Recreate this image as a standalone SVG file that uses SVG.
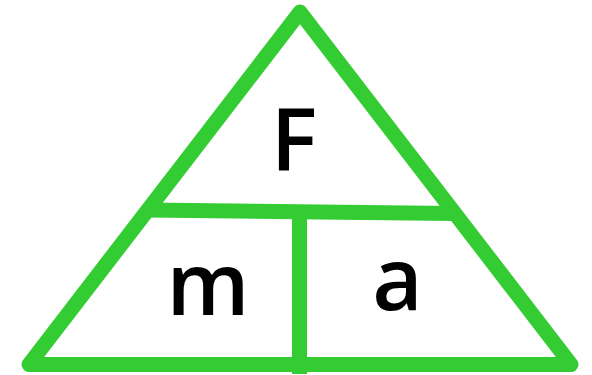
<svg xmlns="http://www.w3.org/2000/svg" width="592" height="375" viewBox="0 0 592 375">
<style>
.ln{fill:none;stroke:#33cc33;stroke-width:15}
.lb{font-family:"Open Sans","Noto Sans","Liberation Sans",sans-serif;font-weight:600;font-size:87px;fill:#000;text-anchor:middle}
</style>
<rect width="592" height="375" fill="#fff"/>
<g id="connectors">
<polygon class="ln" points="300,12 571,364.5 29,364.5" stroke-linejoin="round"/>
<line class="ln" x1="148" y1="210" x2="452" y2="213.5"/>
<line class="ln" x1="299.5" y1="213" x2="299.5" y2="374"/>
</g>
<g id="F"><text class="lb" x="294" y="171">F</text></g>
<g id="m"><text class="lb" x="208" y="315">m</text></g>
<g id="a"><text class="lb" x="397.5" y="310">a</text></g>
</svg>
